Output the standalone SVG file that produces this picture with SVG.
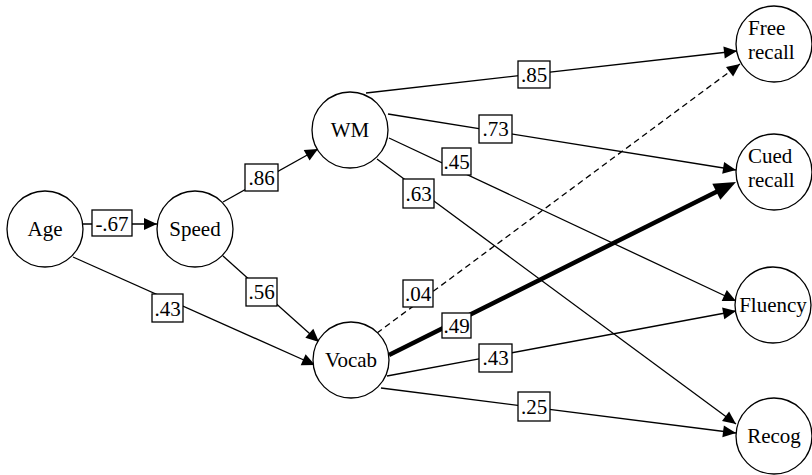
<svg xmlns="http://www.w3.org/2000/svg" width="812" height="475" viewBox="0 0 812 475">
<style>
.node circle{fill:#fff;stroke:#000;stroke-width:1.3}
.node text{font-family:"Liberation Serif","Times New Roman",serif;font-size:21px;fill:#000}
.c{text-anchor:middle}
.edge{stroke:#000;stroke-width:1.3;fill:none}
.thick{stroke-width:4.5}
.dash{stroke-dasharray:6,4}
.lbl rect{fill:#fff;stroke:#000;stroke-width:1.3}
.lbl text{font-family:"Liberation Serif","Times New Roman",serif;font-size:21px;text-anchor:middle;fill:#000}
</style>
<defs>
<marker id="ah" markerUnits="userSpaceOnUse" markerWidth="13" markerHeight="12" refX="13" refY="6" orient="auto" overflow="visible">
<path d="M0,0 L13,6 L0,12 z" fill="#000"/>
</marker>
<marker id="ahb" markerUnits="userSpaceOnUse" markerWidth="22" markerHeight="18" refX="2" refY="9" orient="auto" overflow="visible">
<path d="M0,0 L22,9 L0,18 z" fill="#000"/>
</marker>
</defs>
<g id="connectors">
<g id="e-age-speed"><line class="edge" x1="83" y1="224" x2="157" y2="224" marker-end="url(#ah)"/><g class="lbl"><rect x="92" y="210" width="40" height="26"/><text x="112" y="231">-.67</text></g></g>
<g id="e-age-vocab"><line class="edge" x1="73" y1="257" x2="315" y2="365" marker-end="url(#ah)"/><g class="lbl"><rect x="152" y="294" width="31" height="28"/><text x="167.5" y="316">.43</text></g></g>
<g id="e-speed-wm"><line class="edge" x1="223" y1="202" x2="318" y2="149" marker-end="url(#ah)"/><g class="lbl"><rect x="245" y="164" width="33" height="27"/><text x="261.5" y="185">.86</text></g></g>
<g id="e-speed-vocab"><line class="edge" x1="223" y1="256" x2="319" y2="342" marker-end="url(#ah)"/><g class="lbl"><rect x="246" y="278" width="31" height="28"/><text x="261.5" y="299">.56</text></g></g>
<g id="e-wm-free"><line class="edge" x1="366" y1="93" x2="737" y2="51" marker-end="url(#ah)"/><g class="lbl"><rect x="518" y="61" width="32" height="27"/><text x="534" y="82">.85</text></g></g>
<g id="e-wm-cued"><line class="edge" x1="388" y1="114" x2="736" y2="170" marker-end="url(#ah)"/><g class="lbl"><rect x="479" y="115" width="33" height="28"/><text x="495.5" y="136">.73</text></g></g>
<g id="e-wm-fluency"><line class="edge" x1="389" y1="138" x2="736" y2="301" marker-end="url(#ah)"/><g class="lbl"><rect x="442" y="148" width="29" height="27"/><text x="456.5" y="169">.45</text></g></g>
<g id="e-wm-recog"><line class="edge" x1="377" y1="159" x2="736" y2="424" marker-end="url(#ah)"/><g class="lbl"><rect x="403" y="179" width="31" height="29"/><text x="418.5" y="201">.63</text></g></g>
<g id="e-vocab-free"><line class="edge dash" x1="377" y1="333" x2="740" y2="64" marker-end="url(#ah)"/><g class="lbl"><rect x="403" y="280" width="30" height="27"/><text x="418" y="301">.04</text></g></g>
<g id="e-vocab-cued"><line class="edge thick" x1="389" y1="355" x2="718.1" y2="190.9" marker-end="url(#ahb)"/><g class="lbl"><rect x="442" y="313" width="29" height="25"/><text x="456.5" y="333">.49</text></g></g>
<g id="e-vocab-fluency"><line class="edge" x1="387" y1="376" x2="736" y2="311" marker-end="url(#ah)"/><g class="lbl"><rect x="479" y="344" width="33" height="28"/><text x="495.5" y="365">.43</text></g></g>
<g id="e-vocab-recog"><line class="edge" x1="381" y1="388" x2="736" y2="433" marker-end="url(#ah)"/><g class="lbl"><rect x="518" y="392" width="32" height="29"/><text x="534" y="414">.25</text></g></g>
</g>
<g id="age" class="node"><circle cx="45" cy="229" r="38"/><text class="c" x="45" y="236">Age</text></g>
<g id="speed" class="node"><circle cx="195" cy="229" r="38"/><text class="c" x="195" y="236">Speed</text></g>
<g id="wm" class="node"><circle cx="350" cy="130" r="38"/><text class="c" x="350" y="137">WM</text></g>
<g id="vocab" class="node"><circle cx="351" cy="360" r="38"/><text class="c" x="351" y="367">Vocab</text></g>
<g id="free" class="node"><circle cx="774" cy="44" r="38"/><text x="748" y="35">Free</text><text x="748" y="59">recall</text></g>
<g id="cued" class="node"><circle cx="774" cy="172" r="38"/><text x="748" y="163">Cued</text><text x="748" y="187">recall</text></g>
<g id="fluency" class="node"><circle cx="773" cy="305" r="38"/><text class="c" x="773" y="312">Fluency</text></g>
<g id="recog" class="node"><circle cx="774" cy="436" r="38"/><text class="c" x="774" y="443">Recog</text></g>
</svg>
